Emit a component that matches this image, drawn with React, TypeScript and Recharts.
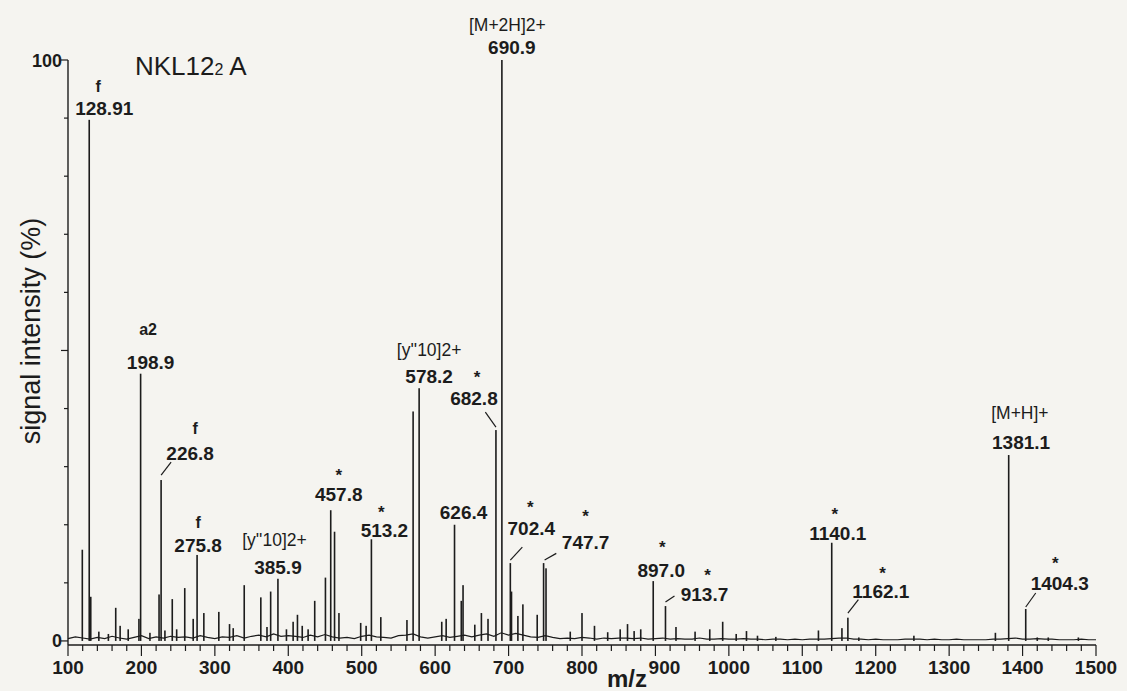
import React from 'react';
import { ComposedChart, Bar, Line, Scatter, XAxis, YAxis, Label } from 'recharts';

// peaks (m/z, relative intensity %)
const peakMz = [
  119.5, 128.91, 131, 142, 155, 165, 171, 182, 196.6, 198.9, 211.6, 224, 226.8, 232, 242, 248, 259,
  270.5, 275.8, 285, 305.4, 320, 325, 340, 362.6, 371, 376, 385.9, 397.5, 406.6, 412.5, 419, 427,
  436, 450.6, 457.8, 463, 469, 498.6, 506, 513.2, 526, 561.6, 570, 578.2, 609, 615, 626.4, 635.6,
  638, 654, 663, 672, 682.8, 690.9, 702.4, 704, 712.7, 719.5, 739, 747.7, 751, 784, 800, 817, 835,
  852, 862, 871, 880, 897.0, 913.7, 928, 954, 974, 991.6, 1010, 1024, 1039, 1064, 1122, 1140.1,
  1154, 1162.1, 1177, 1252, 1363, 1381.1, 1404.3, 1420, 1435, 1476
];
const peakIntensity = [
  15.7, 89.7, 7.6, 1.6, 1.2, 5.7, 2.6, 2, 3.8, 46, 1.4, 8, 27.7, 1.8, 7.2, 2, 9.1,
  3.8, 14.8, 4.8, 5, 2.9, 2.2, 9.6, 7.5, 2.4, 8.5, 10.7, 2, 3.3, 4.5, 2.6, 2,
  6.9, 10.9, 22.5, 18.8, 4.8, 3.1, 2.6, 17.5, 4.1, 3.6, 39.5, 43.5, 3.3, 3.8, 20, 6.9,
  9.6, 2.8, 4.8, 3.8, 36.3, 100, 13.4, 8.5, 4.3, 6.3, 4.5, 13.4, 12.5, 1.6, 4.8, 2.6, 1.5,
  2, 2.9, 1.7, 2, 10.3, 6, 2.4, 1.6, 2, 3.3, 1.2, 1.7, 0.9, 0.7, 1.8, 16.9,
  2.2, 4, 0.6, 0.9, 1.4, 32, 5.5, 0.6, 0.6, 0.6
];

// annotated peaks
const labelMz = [128.91, 198.9, 226.8, 275.8, 385.9, 457.8, 513.2, 578.2, 626.4, 682.8, 690.9, 702.4, 747.7, 897.0, 913.7, 1140.1, 1162.1, 1381.1, 1404.3];
const labelText = ['128.91', '198.9', '226.8', '275.8', '385.9', '457.8', '513.2', '578.2', '626.4', '682.8', '690.9', '702.4', '747.7', '897.0', '913.7', '1140.1', '1162.1', '1381.1', '1404.3'];
const labelTag = ['f', 'a2', 'f', 'f', "[y''10]2+", '*', '*', "[y''10]2+", '', '*', '[M+2H]2+', '*', '*', '*', '*', '*', '*', '[M+H]+', '*'];

// noise floor, sampled every 10 m/z from 100 to 1500
const baselineLevel = [
  0.4, 0.7, 0.5, 0.3, 0.6, 0.4, 0.8, 0.5, 0.3, 0.6, 0.9, 0.4, 0.7, 0.5, 0.8, 0.6,
  0.7, 0.5, 0.9, 0.6, 0.4, 0.7, 0.6, 0.9, 0.5, 0.8, 1.0, 0.7, 1.2, 0.8, 0.9,
  0.8, 0.6, 1.0, 0.7, 1.1, 0.7, 0.5, 0.6, 0.4, 0.8, 1.0, 0.7, 0.6, 0.5, 0.9,
  1.0, 1.2, 0.7, 0.5, 0.7, 0.9, 0.6, 0.8, 1.0, 0.7, 1.0, 1.2, 0.8, 1.4, 1.0,
  1.3, 1.0, 0.7, 0.6, 0.9, 0.6, 0.4, 0.5, 0.4, 0.6, 0.5, 0.3, 0.5, 0.4, 0.5,
  0.5, 0.4, 0.5, 0.3, 0.4, 0.5, 0.3, 0.4, 0.3, 0.3, 0.5, 0.3, 0.3, 0.4, 0.3,
  0.3, 0.4, 0.3, 0.3, 0.2, 0.3, 0.3, 0.2, 0.3, 0.2, 0.3, 0.3, 0.3, 0.4, 0.5,
  0.5, 0.3, 0.3, 0.2, 0.3, 0.2, 0.2, 0.2, 0.3, 0.3, 0.3, 0.2, 0.3, 0.2, 0.2,
  0.3, 0.2, 0.2, 0.2, 0.2, 0.3, 0.3, 0.4, 0.5, 0.3, 0.3, 0.4, 0.3, 0.3, 0.2,
  0.2, 0.2, 0.3, 0.2, 0.2
];

const xTicks = [100, 120, 140, 160, 180, 200, 220, 240, 260, 280, 300, 320, 340, 360, 380, 400, 420, 440, 460, 480, 500,
  520, 540, 560, 580, 600, 620, 640, 660, 680, 700, 720, 740, 760, 780, 800, 820, 840, 860, 880, 900, 920, 940, 960, 980,
  1000, 1020, 1040, 1060, 1080, 1100, 1120, 1140, 1160, 1180, 1200, 1220, 1240, 1260, 1280, 1300, 1320, 1340, 1360, 1380,
  1400, 1420, 1440, 1460, 1480, 1500];
const yTicks = [0, 10, 20, 30, 40, 50, 60, 70, 80, 90, 100];
const yTickText: Record<number, string> = { 0: '0', 100: '100' };

// label placement relative to the peak top (px)
const labelLayout = [
  { dx: 15, dy: -12, tdx: -6, tdy: -22 },
  { dx: 10, dy: -12, tdx: -2.5, tdy: -32 },
  { dx: 29, dy: -27, tdx: 5, tdy: -25, leader: [0, -5, 10, -18] },
  { dx: 1, dy: -10, tdx: 0, tdy: -23 },
  { dx: 0, dy: -12, tdx: -3.5, tdy: -27 },
  { dx: 8, dy: -16, tdx: 0, tdy: -22.6 },
  { dx: 13, dy: -9, tdx: -3, tdy: -22 },
  { dx: 10, dy: -12, tdx: 0, tdy: -27 },
  { dx: 9, dy: -13, tdx: 0, tdy: 0 },
  { dx: -22, dy: -32, tdx: 3, tdy: -25, leader: [0, -3, -10.6, -18] },
  { dx: 10, dy: -13, tdx: -4.5, tdy: -22 },
  { dx: 21, dy: -35, tdx: -1, tdy: -25, leader: [0, -3, 12, -16] },
  { dx: 42, dy: -21, tdx: 0, tdy: -29.6, leader: [1, -3, 12.7, -9.7] },
  { dx: 8, dy: -11, tdx: 1, tdy: -26.7 },
  { dx: 39, dy: -12, tdx: 3, tdy: -22.5, leader: [0, -4, 9, -10] },
  { dx: 6, dy: -10, tdx: -3, tdy: -22.7 },
  { dx: 33, dy: -26, tdx: 1.6, tdy: -22.7, leader: [0, -4.5, 10.5, -18] },
  { dx: 12.4, dy: -13.3, tdx: -1.2, tdy: -28.7 },
  { dx: 34, dy: -26, tdx: -4.3, tdy: -23.7, leader: [0, -2, 10, -16] },
];
// the 900 label sits a little right of its tick, clear of "m/z"
const xTickShift: Record<number, number> = { 900: 9 };

const INK = '#1c1c1c';
const FONT = "Arial, 'Liberation Sans', Helvetica, sans-serif";
const PAPER = '#f5f4f0';

const peakRows = peakMz.map((mz, i) => ({ mz, intensity: peakIntensity[i] }));
const baselineRows = baselineLevel.map((level, i) => ({ mz: 100 + i * 10, level }));
const labelRows = labelMz.map((mz, i) => ({
  mz,
  intensity: peakIntensity[peakMz.indexOf(mz)],
  text: labelText[i],
  tag: labelTag[i],
  i,
}));

// thin stick, centred on the bar slot recharts gives us
const Stick = (props: any) => {
  const { x, y, width, height } = props;
  if (x == null || height == null) return null;
  const mid = x + width / 2;
  return <rect x={mid - 0.8} y={y} width={1.6} height={Math.max(height, 0)} fill={INK} />;
};

const PeakLabel = (props: any) => {
  const { cx, cy, payload } = props;
  if (cx == null || cy == null) return null;
  const lay = labelLayout[payload.i];
  const lx = cx + lay.dx;
  const ly = cy + lay.dy;
  const tag = payload.tag;
  const star = tag === '*';
  const bracket = tag.startsWith('[');
  const tagSize = star ? 17 : bracket ? 17.5 : 16;
  return (
    <g>
      {lay.leader && (
        <line
          x1={cx + lay.leader[0]} y1={cy + lay.leader[1]}
          x2={cx + lay.leader[2]} y2={cy + lay.leader[3]}
          stroke={INK} strokeWidth={1.2}
        />
      )}
      <text x={lx} y={ly + 6.8} textAnchor="middle" fontFamily={FONT} fontSize={19} fontWeight="bold" fill={INK}>
        {payload.text}
      </text>
      {tag && (
        <text
          x={lx + lay.tdx}
          y={ly + lay.tdy + (star ? 0.57 * tagSize : 0.36 * tagSize)}
          textAnchor="middle" fontFamily={FONT} fontSize={tagSize} fontWeight={bracket ? 'normal' : 'bold'} fill={INK}
        >
          {tag}
        </text>
      )}
    </g>
  );
};

const XTick = (props: any) => {
  const { x, y, payload } = props;
  const major = payload.value % 100 === 0;
  const shift = xTickShift[payload.value] || 0;
  return (
    <g>
      <line x1={x} x2={x} y1={y} y2={y + (major ? 11 : 6)} stroke={INK} strokeWidth={1.2} />
      {major && (
        <text x={x + shift} y={y + 28.5} textAnchor="middle" fontFamily={FONT} fontSize={19} fontWeight="bold" fill={INK}>
          {payload.value}
        </text>
      )}
    </g>
  );
};

const YTick = (props: any) => {
  const { x, y, payload } = props;
  const v = payload.value;
  const long = v === 0 || v === 50 || v === 100;
  return (
    <g>
      <line x1={x - (long ? 7 : 4)} x2={x} y1={y} y2={y} stroke={INK} strokeWidth={1.2} />
      {yTickText[v] !== undefined && (
        <text x={x - 6} y={y + 6.5} textAnchor="end" fontFamily={FONT} fontSize={18} fontWeight="bold" fill={INK}>
          {yTickText[v]}
        </text>
      )}
    </g>
  );
};

const YTitle = () => (
  <g>
    <text
      x={31} y={331} transform="rotate(-90 31 331)" textAnchor="middle" dominantBaseline="central"
      fontFamily={FONT} fontSize={27} fill={INK}
    >
      signal intensity (%)
    </text>
    <text x={135} y={75} fontFamily={FONT} fontSize={26} fill={INK}>
      NKL12<tspan fontSize={16}>2</tspan> A
    </text>
  </g>
);

const XTitle = () => (
  <text x={627} y={687} textAnchor="middle" fontFamily={FONT} fontSize={24} fontWeight="bold" fill={INK}>
    m/z
  </text>
);

export default function App() {
  return (
    <div style={{ position: 'absolute', left: 0, top: 0, width: 1127, height: 691, background: PAPER }}>
      <ComposedChart
        width={1127}
        height={691}
        data={peakRows}
        margin={{ top: 60, right: 31, bottom: 0, left: 8 }}
      >
        <XAxis
          dataKey="mz"
          type="number"
          domain={[100, 1500]}
          ticks={xTicks}
          interval={0}
          height={46}
          tickSize={0}
          tickMargin={0}
          tickLine={false}
          tick={<XTick />}
          axisLine={{ stroke: INK, strokeWidth: 1.4 }}
        >
          <Label content={<XTitle />} />
        </XAxis>
        <YAxis
          type="number"
          domain={[-0.7, 100]}
          ticks={yTicks}
          interval={0}
          width={60}
          tickSize={0}
          tickMargin={0}
          tickLine={false}
          tick={<YTick />}
          axisLine={{ stroke: INK, strokeWidth: 1.4 }}
        >
          <Label content={<YTitle />} />
        </YAxis>
        <Bar dataKey="intensity" barSize={2} fill={INK} shape={<Stick />} isAnimationActive={false} />
        <Line
          data={baselineRows}
          dataKey="level"
          type="linear"
          stroke={INK}
          strokeWidth={1.2}
          dot={false}
          activeDot={false}
          isAnimationActive={false}
        />
        <Scatter data={labelRows} dataKey="intensity" shape={<PeakLabel />} isAnimationActive={false} />
      </ComposedChart>
    </div>
  );
}
